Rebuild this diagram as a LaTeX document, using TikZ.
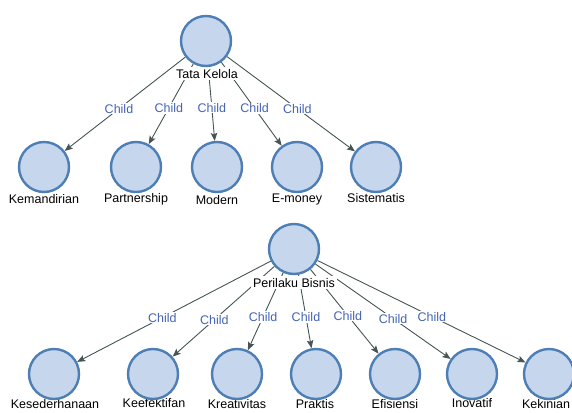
\documentclass[tikz,border=0pt]{standalone}
\usepackage{fontspec}
\setmainfont{Liberation Sans}
\usetikzlibrary{arrows.meta}
\pgfdeclarelayer{edges}
\pgfsetlayers{edges,main}
\definecolor{cfill}{RGB}{198,214,236}
\definecolor{cline}{RGB}{78,126,182}
\definecolor{eline}{RGB}{70,84,84}
\definecolor{ctext}{RGB}{68,100,180}
\begin{document}
\begin{tikzpicture}[x=1pt,y=-1pt,
  ent/.style={circle,draw=cline,fill=cfill,line width=2.4pt,minimum size=50pt,inner sep=0pt},
  lab/.style={fill=white,inner xsep=2pt,inner ysep=1.5pt,anchor=base,font=\fontsize{12.5}{14}\selectfont},
  rel/.style={draw=eline,line width=0.9pt,-{Stealth[length=8pt,width=6.5pt,inset=1.5pt]}},
  chl/.style={fill=white,text=ctext,inner sep=1pt,font=\fontsize{12.5}{14}\selectfont}]
\useasboundingbox (0,0) rectangle (572,412);
% ---- tree 1 ----
\node[lab] (tkl) at (207,78) {Tata Kelola};
\node[ent] (tk) at (206,41) {};
\node[lab] (kml) at (44,203) {Kemandirian};
\node[lab] (pal) at (136,202) {Partnership};
\node[lab] (mol) at (217,204) {Modern};
\node[lab] (eml) at (297,202) {E-money};
\node[lab] (sil) at (376,202) {Sistematis};
\node[ent] (km) at (44,167) {};
\node[ent] (pa) at (136,167) {};
\node[ent] (mo) at (217,167) {};
\node[ent] (em) at (297,167) {};
\node[ent] (si) at (376,167) {};
% ---- tree 2 ----
\node[lab] (pbl) at (294,287) {Perilaku Bisnis};
\node[ent] (pb) at (294,249) {};
\node[lab] (ksl) at (55,408.5) {Kesederhanaan};
\node[lab] (kfl) at (154,407) {Keefektifan};
\node[lab] (krl) at (237,408.5) {Kreativitas};
\node[lab] (prl) at (315,408.5) {Praktis};
\node[lab] (efl) at (395,408.5) {Efisiensi};
\node[lab] (inl) at (472,407) {Inovatif};
\node[lab] (kkl) at (546,408.5) {Kekinian};
\node[ent] (ks) at (54,374) {};
\node[ent] (kf) at (153,374) {};
\node[ent] (kr) at (237,374) {};
\node[ent] (pr) at (316,374) {};
\node[ent] (ef) at (395,374) {};
\node[ent] (in) at (472,374) {};
\node[ent] (kk) at (549,374) {};
\begin{pgfonlayer}{edges}
\draw[rel] (tk) -- node[chl,pos=0.55]{Child} (km);
\draw[rel] (tk) -- node[chl,pos=0.55]{Child} (pa);
\draw[rel] (tk) -- node[chl,pos=0.55]{Child} (mo);
\draw[rel] (tk) -- node[chl,pos=0.55]{Child} (em);
\draw[rel] (tk) -- node[chl,pos=0.55]{Child} (si);
\draw[rel] (pb) -- node[chl,pos=0.56]{Child} (ks);
\draw[rel] (pb) -- node[chl,pos=0.59]{Child} (kf);
\draw[rel] (pb) -- node[chl,pos=0.57]{Child} (kr);
\draw[rel] (pb) -- node[chl,pos=0.575]{Child} (pr);
\draw[rel] (pb) -- node[chl,pos=0.55]{Child} (ef);
\draw[rel] (pb) -- node[chl,pos=0.575]{Child} (in);
\draw[rel] (pb) -- node[chl,pos=0.55]{Child} (kk);
\end{pgfonlayer}
\end{tikzpicture}
\end{document}
